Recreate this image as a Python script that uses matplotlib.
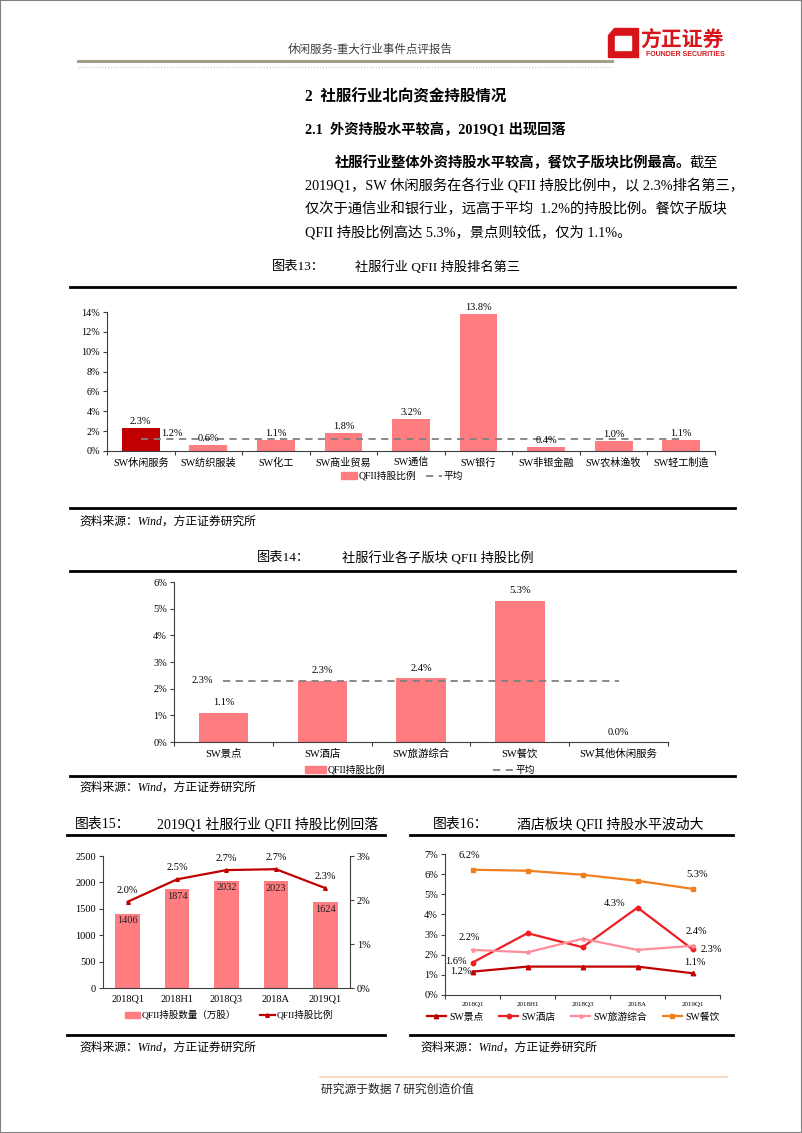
import matplotlib
matplotlib.use('Agg')
import matplotlib.pyplot as plt
from matplotlib.patches import Rectangle, Polygon, Patch
from matplotlib.lines import Line2D
from matplotlib.ticker import FuncFormatter, FixedLocator
import numpy as np

plt.rcParams['font.family'] = ['Liberation Serif', 'Noto Sans CJK SC']
plt.rcParams['axes.unicode_minus'] = False

# ---------------- data ----------------
c13_cats = ['SW休闲服务', 'SW纺织服装', 'SW化工', 'SW商业贸易', 'SW通信',
            'SW银行', 'SW非银金融', 'SW农林渔牧', 'SW轻工制造']
c13_vals = [2.3, 0.6, 1.1, 1.8, 3.2, 13.8, 0.4, 1.0, 1.1]
c13_avg = 1.2

c14_cats = ['SW景点', 'SW酒店', 'SW旅游综合', 'SW餐饮', 'SW其他休闲服务']
c14_vals = [1.1, 2.3, 2.4, 5.3, 0.0]
c14_avg = 2.3

c15_periods = ['2018Q1', '2018H1', '2018Q3', '2018A', '2019Q1']
c15_shares = [1406, 1874, 2032, 2023, 1624]
c15_ratio = [1.96, 2.47, 2.68, 2.70, 2.27]

c16_periods = ['2018Q1', '2018H1', '2018Q3', '2018A', '2019Q1']
c16_jingdian = [1.16, 1.41, 1.41, 1.41, 1.08]
c16_jiudian = [1.61, 3.07, 2.37, 4.34, 2.27]
c16_lvyou = [2.24, 2.12, 2.79, 2.24, 2.44]
c16_canyin = [6.22, 6.17, 5.97, 5.67, 5.27]
c16_names = ['SW景点', 'SW酒店', 'SW旅游综合', 'SW餐饮']

PINK = '#FF7C80'
DARKRED = '#C00000'

W, H = 802, 1133
fig = plt.figure(figsize=(W / 100, H / 100), dpi=100)


def rect(x0, y0, x1, y1):
    return [x0 / W, 1 - y1 / H, (x1 - x0) / W, (y1 - y0) / H]


def fx(x):
    return x / W


def fy(y):
    return 1 - y / H


def hline(x0, x1, y, color='black', lw=2.0, ls='-'):
    fig.add_artist(Line2D([fx(x0), fx(x1)], [fy(y), fy(y)], color=color, lw=lw, ls=ls,
                          transform=fig.transFigure))


def txt(x, y, s, size=9, ha='left', va='center', **kw):
    fig.text(fx(x), fy(y), s, fontsize=size, ha=ha, va=va, **kw)


# ---------------- page decoration ----------------
fig.add_artist(Rectangle((0, 0), 1, 1, transform=fig.transFigure, fill=False,
                         edgecolor='#808080', lw=1.5))
txt(370, 50, '休闲服务-重大行业事件点评报告', size=8.3, ha='center', color='#404040')
hline(78, 612, 61, color='#A39E88', lw=2.2)
hline(78, 612, 67, color='#C8C8C8', lw=0.8, ls=':')

# logo
fig.add_artist(Polygon([(fx(614), fy(28)), (fx(638), fy(28)), (fx(638), fy(57)),
                        (fx(608), fy(57)), (fx(608), fy(35))],
                       closed=True, transform=fig.transFigure, color='#D7141A'))
fig.add_artist(Polygon([(fx(615), fy(36)), (fx(631), fy(36)), (fx(631), fy(50)),
                        (fx(615), fy(50))],
                       closed=True, transform=fig.transFigure, color='white'))
txt(682, 40, '方正证券', size=15, ha='center', color='#D7141A', weight='bold',
    family=['Noto Sans CJK SC'])
txt(685, 55, 'FOUNDER SECURITIES', size=5, ha='center', color='#D7141A', weight='bold',
    family=['Liberation Sans'])

# headings and paragraph
txt(305, 97, '2  社服行业北向资金持股情况', size=11.2, weight='bold')
txt(305, 130, '2.1  外资持股水平较高，2019Q1 出现回落', size=10.3, weight='bold')
txt(335, 163, '社服行业整体外资持股水平较高，餐饮子版块比例最高。', size=10.3, weight='bold')
txt(689, 163, '截至', size=10.3)
txt(305, 186, '2019Q1，SW 休闲服务在各行业 QFII 持股比例中，以 2.3%排名第三，', size=10.3)
txt(305, 209, '仅次于通信业和银行业，远高于平均  1.2%的持股比例。餐饮子版块', size=10.3)
txt(305, 232, 'QFII 持股比例高达 5.3%，景点则较低，仅为 1.1%。', size=10.3)

# chart titles / rules / sources
txt(272, 267, '图表13：', size=9.5)
txt(355, 267, '社服行业 QFII 持股排名第三', size=9.5)
hline(70, 735, 287)
hline(70, 735, 508)
txt(79, 522, '资料来源：Wind，方正证券研究所', size=8.5, style='italic')

txt(257, 558, '图表14：', size=9.5)
txt(342, 558, '社服行业各子版块 QFII 持股比例', size=9.5)
hline(70, 735, 571)
hline(70, 735, 776)
txt(79, 788, '资料来源：Wind，方正证券研究所', size=8.5, style='italic')

txt(75, 824, '图表15：', size=10)
txt(157, 824, '2019Q1 社服行业 QFII 持股比例回落', size=10)
hline(67, 385, 835)
hline(67, 385, 1035)
txt(79, 1048, '资料来源：Wind，方正证券研究所', size=8.5, style='italic')

txt(433, 824, '图表16：', size=10)
txt(517, 824, '酒店板块 QFII 持股水平波动大', size=10)
hline(410, 733, 835)
hline(410, 733, 1035)
txt(420, 1048, '资料来源：Wind，方正证券研究所', size=8.5, style='italic')

# footer
hline(320, 727, 1077, color='#F6D5BC', lw=1.2)
txt(321, 1089, '研究源于数据 7 研究创造价值', size=8.5, color='#222222',
    family=['Noto Sans CJK SC'])


def style_axes(ax, ncat):
    for s in ['top', 'right']:
        ax.spines[s].set_visible(False)
    ax.spines['left'].set_color('#404040')
    ax.spines['bottom'].set_color('#404040')
    ax.spines['left'].set_linewidth(0.8)
    ax.spines['bottom'].set_linewidth(0.8)
    ax.set_xlim(-0.5, ncat - 0.5)
    ax.xaxis.set_minor_locator(FixedLocator(np.arange(-0.5, ncat, 1.0)))
    ax.tick_params(axis='x', which='major', length=0, pad=5)
    ax.tick_params(axis='x', which='minor', length=3, color='#404040', width=0.8)
    ax.tick_params(axis='y', length=3, color='#404040', width=0.8, pad=2)


pct = FuncFormatter(lambda v, p: f'{v:.0f}%')

# ---------------- chart 13 ----------------
ax = fig.add_axes(rect(107, 312, 715, 451))
x13 = np.arange(len(c13_cats))
colors13 = [DARKRED] + [PINK] * (len(c13_cats) - 1)
ax.bar(x13, c13_vals, width=0.56, color=colors13)
ax.plot(x13, [c13_avg] * len(x13), ls=(0, (4, 3)), color='#808080', lw=1.3)
for xi, v in zip(x13, c13_vals):
    ax.text(xi, v + 0.25, f'{v:.1f}%', ha='center', va='bottom', fontsize=7.5)
ax.text(0.3, c13_avg + 0.1, f'{c13_avg:.1f}%', ha='left', va='bottom', fontsize=7.5)
ax.set_ylim(0, 14)
ax.set_yticks(np.arange(0, 15, 2))
ax.yaxis.set_major_formatter(pct)
ax.set_xticks(x13)
ax.set_xticklabels(c13_cats)
style_axes(ax, len(c13_cats))
ax.tick_params(labelsize=7.3)
ax.legend(handles=[Patch(color=PINK), Line2D([], [], ls=(0, (4, 3)), color='#808080', lw=1.3)],
          labels=['QFII持股比例', '平均'], loc='center', bbox_to_anchor=(fx(402), fy(476)),
          bbox_transform=fig.transFigure, ncol=2, frameon=False, fontsize=7,
          handlelength=1.6, handleheight=0.6, columnspacing=1.0, handletextpad=0.2)

# ---------------- chart 14 ----------------
ax = fig.add_axes(rect(174, 582, 668, 742))
x14 = np.arange(len(c14_cats))
ax.bar(x14, c14_vals, width=0.5, color=PINK)
ax.plot(x14, [c14_avg] * len(x14), ls=(0, (4, 3)), color='#808080', lw=1.3)
for xi, v in zip(x14, c14_vals):
    ax.text(xi, v + 0.2, f'{v:.1f}%', ha='center', va='bottom', fontsize=7.5)
ax.text(-0.1, c14_avg, f'{c14_avg:.1f}%', ha='right', va='center', fontsize=7.5)
ax.set_ylim(0, 6)
ax.set_yticks(np.arange(0, 7, 1))
ax.yaxis.set_major_formatter(pct)
ax.set_xticks(x14)
ax.set_xticklabels(c14_cats)
style_axes(ax, len(c14_cats))
ax.tick_params(labelsize=7.5)
ax.legend(handles=[Patch(color=PINK), Line2D([], [], ls=(0, (4, 3)), color='#808080', lw=1.3)],
          labels=['QFII持股比例', '平均'], loc='center', bbox_to_anchor=(fx(420), fy(770)),
          bbox_transform=fig.transFigure, ncol=2, frameon=False, fontsize=7,
          handlelength=2.2, handleheight=0.6, columnspacing=11, handletextpad=0.2)

# ---------------- chart 15 ----------------
ax = fig.add_axes(rect(103, 856, 350, 988))
x15 = np.arange(len(c15_periods))
ax.bar(x15, c15_shares, width=0.5, color=PINK)
for xi, v in zip(x15, c15_shares):
    ax.text(xi, v - 50, f'{v}', ha='center', va='top', fontsize=7.5, color='#202020')
ax.set_ylim(0, 2500)
ax.set_yticks(np.arange(0, 2501, 500))
ax.set_xticks(x15)
ax.set_xticklabels(c15_periods)
style_axes(ax, len(c15_periods))
ax.tick_params(labelsize=7.5)
ax.tick_params(axis='x', which='minor', length=0)
ax2 = ax.twinx()
ax2.plot(x15, c15_ratio, color=DARKRED, lw=1.6, marker='^', ms=2.6)
for xi, v in zip(x15, c15_ratio):
    ax2.annotate(f'{v:.1f}%', (xi, v), xytext=(0, 5), textcoords='offset points',
                 ha='center', va='bottom', fontsize=7.5)
ax2.set_ylim(0, 3)
ax2.set_yticks([0, 1, 2, 3])
ax2.yaxis.set_major_formatter(pct)
for s in ['top', 'left', 'bottom']:
    ax2.spines[s].set_visible(False)
ax2.spines['right'].set_color('#404040')
ax2.spines['right'].set_linewidth(0.8)
ax2.tick_params(axis='y', length=3, color='#404040', width=0.8, labelsize=7.5, pad=2)
ax.legend(handles=[Patch(color=PINK), Line2D([], [], color=DARKRED, lw=1.6, marker='^', ms=2.6)],
          labels=['QFII持股数量（万股）', 'QFII持股比例'], loc='center',
          bbox_to_anchor=(fx(229), fy(1015)), bbox_transform=fig.transFigure, ncol=2,
          frameon=False, fontsize=6.8, handlelength=1.6, handleheight=0.6,
          columnspacing=2.5, handletextpad=0.2)

# ---------------- chart 16 ----------------
ax = fig.add_axes(rect(445, 854, 720, 995))
x16 = np.arange(len(c16_periods))
series16 = [c16_jingdian, c16_jiudian, c16_lvyou, c16_canyin]
colors16 = ['#C00000', '#F01E23', '#FF8C9A', '#F07F1E']
markers16 = ['^', 'o', '*', 's']
handles16 = []
for ser, col, mk in zip(series16, colors16, markers16):
    ln, = ax.plot(x16, ser, color=col, lw=1.6, marker=mk, ms=3.2)
    handles16.append(ln)
ax.set_ylim(0, 7)
ax.set_yticks(np.arange(0, 8, 1))
ax.yaxis.set_major_formatter(pct)
ax.set_xticks(x16)
ax.set_xticklabels(c16_periods)
style_axes(ax, len(c16_periods))
ax.tick_params(axis='y', labelsize=7.5)
ax.tick_params(axis='x', labelsize=5)

fs = 7.5
def lab(ax, x, y, dx, dy, ha='center'):
    ax.annotate(f'{y:.1f}%', (x, y), xytext=(dx, dy), textcoords='offset points',
                ha=ha, va='center', fontsize=fs)

lab(ax, 0, c16_canyin[0], -2, 10)
lab(ax, 4, c16_canyin[4], 3, 10)
lab(ax, 3, c16_jiudian[3], -9, 3, ha='right')
lab(ax, 0, c16_lvyou[0], -2, 9)
lab(ax, 0, c16_jiudian[0], -12, 1)
lab(ax, 0, c16_jingdian[0], -8, 0)
lab(ax, 4, c16_lvyou[4], 3, 10)
lab(ax, 4, c16_jiudian[4], 6, 0, ha='left')
lab(ax, 4, c16_jingdian[4], 2, 8)
ax.legend(handles=handles16, labels=c16_names, loc='center',
          bbox_to_anchor=(fx(573), fy(1017)), bbox_transform=fig.transFigure, ncol=4,
          frameon=False, fontsize=7, handlelength=2.0, columnspacing=1.6,
          handletextpad=0.3)

fig.savefig('out.png', dpi=100)
